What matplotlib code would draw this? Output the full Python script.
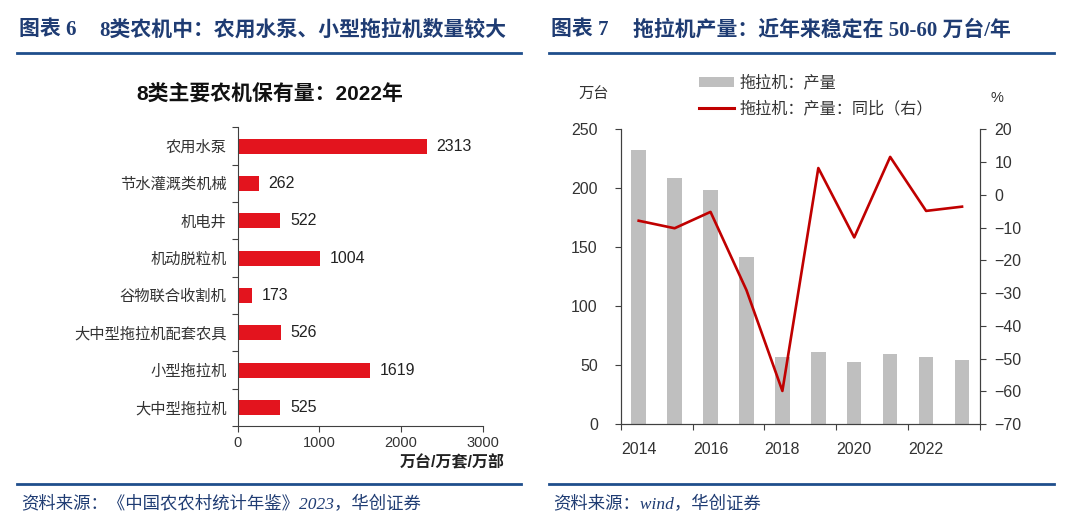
import numpy as np
import matplotlib
matplotlib.use("Agg")
import matplotlib.pyplot as plt
from matplotlib.lines import Line2D
from matplotlib.patches import Patch

plt.rcParams['font.family'] = ['Liberation Sans', 'Noto Sans CJK SC', 'DejaVu Sans']
plt.rcParams['axes.unicode_minus'] = True

# ---- data: left chart (top to bottom) ----
machines = ["农用水泵", "节水灌溉类机械", "机电井", "机动脱粒机",
            "谷物联合收割机", "大中型拖拉机配套农具", "小型拖拉机", "大中型拖拉机"]
holdings = [2313, 262, 522, 1004, 173, 526, 1619, 525]

# ---- data: right chart ----
years = [2014, 2015, 2016, 2017, 2018, 2019, 2020, 2021, 2022, 2023]
tractor_output = [232.6, 208.8, 198.6, 141.5, 56.6, 61.1, 52.9, 59.2, 56.6, 54.3]
tractor_yoy = [-7.9, -10.2, -5.2, -29.1, -59.9, 8.2, -13.0, 11.6, -4.9, -3.6]

navy = '#1F3C73'
line_navy = '#1F4E8C'
spine_col = '#404040'
serif_cjk = ['Liberation Serif', 'Noto Sans CJK SC']

fig = plt.figure(figsize=(10.8, 5.29), dpi=100)

# headers
fig.text(19/1080, 1-30/529, "图表 6", family=serif_cjk, fontsize=15,
         fontweight='bold', color=navy, va='center')
fig.text(99/1080, 1-30/529, "8类农机中：农用水泵、小型拖拉机数量较大",
         family=serif_cjk, fontsize=15, fontweight='bold', color=navy, va='center')
fig.text(551/1080, 1-30/529, "图表 7", family=serif_cjk, fontsize=15,
         fontweight='bold', color=navy, va='center')
fig.text(633/1080, 1-30/529, "拖拉机产量：近年来稳定在 50-60 万台/年",
         family=serif_cjk, fontsize=15, fontweight='bold', color=navy, va='center')
for x0, x1 in [(17, 521), (549, 1054)]:
    fig.add_artist(Line2D([x0/1080, x1/1080], [1-53/529, 1-53/529],
                          transform=fig.transFigure, color=line_navy, lw=2))
    fig.add_artist(Line2D([x0/1080, x1/1080], [1-484/529, 1-484/529],
                          transform=fig.transFigure, color=line_navy, lw=2))

# footers
fig.text(21/1080, 1-505/529, "资料来源：《中国农农村统计年鉴》2023，华创证券",
         family=serif_cjk, fontsize=12.5, style='italic', color=navy, va='center')
fig.text(553/1080, 1-505/529, "资料来源：wind，华创证券",
         family=serif_cjk, fontsize=12.5, style='italic', color=navy, va='center')

# ---- left chart ----
ax1 = fig.add_axes([237.5/1080, 0.1945, (482.9-237.5)/1080, 0.759-0.1945])
ypos = np.arange(len(machines))[::-1]
ax1.barh(ypos, holdings, height=0.4, color='#E3141E')
for y, v in zip(ypos, holdings):
    ax1.text(v + 120, y, str(v), va='center', ha='left', fontsize=11.5, color='#222222')
ax1.set_xlim(0, 3000)
ax1.set_ylim(-0.5, len(machines) - 0.5)
ax1.set_xticks([0, 1000, 2000, 3000])
ax1.set_yticks(np.arange(len(machines) + 1) - 0.5)
ax1.set_yticklabels([])
ax1.set_yticks(ypos, minor=True)
ax1.set_yticklabels(machines, minor=True, fontsize=11, color='#333333')
ax1.tick_params(axis='y', which='minor', length=0, pad=8)
ax1.tick_params(axis='y', which='major', length=4, color=spine_col)
ax1.tick_params(axis='x', length=4, color=spine_col, labelsize=10.5, pad=3, labelcolor='#333333')
for s in ['top', 'right']:
    ax1.spines[s].set_visible(False)
for s in ['left', 'bottom']:
    ax1.spines[s].set_color(spine_col)
fig.text(270/1080, 1-94.6/529, "8类主要农机保有量：2022年", ha='center', va='center',
         fontsize=15, fontweight='bold', color='#111111')
fig.text(505/1080, 1-463/529, "万台/万套/万部", ha='right', va='center',
         fontsize=11.5, fontweight='bold', color='#222222')

# ---- right chart ----
ax2 = fig.add_axes([620.7/1080, 1-424/529, (980-620.7)/1080, (424-129.4)/529])
xpos = np.arange(len(years))
ax2.bar(xpos, tractor_output, width=0.4, color='#BFBFBF')
ax2.set_xlim(-0.5, len(years) - 0.5)
ax2.set_ylim(0, 250)
ax2.set_yticks([0, 50, 100, 150, 200, 250])
ax2.set_xticks(np.arange(0, len(years) + 1, 2) - 0.5)
ax2.set_xticklabels([])
ax2.set_xticks(xpos[::2], minor=True)
ax2.set_xticklabels([str(y) for y in years[::2]], minor=True)
ax2.tick_params(axis='x', which='minor', length=0, pad=13, labelsize=11.5, labelcolor='#333333')
ax2.tick_params(axis='x', which='major', length=4.5, color=spine_col)
ax2.tick_params(axis='y', length=4.5, color=spine_col, pad=12, labelsize=11.5, labelcolor='#333333')
ax2.spines['top'].set_visible(False)
for s in ['left', 'bottom', 'right']:
    ax2.spines[s].set_color(spine_col)

ax3 = ax2.twinx()
ax3.plot(xpos, tractor_yoy, color='#C00000', lw=1.9)
ax3.set_ylim(-70, 20)
ax3.set_yticks(np.arange(-70, 21, 10))
ax3.tick_params(axis='y', length=4.5, color=spine_col, pad=6, labelsize=11.5, labelcolor='#333333')
ax3.spines['top'].set_visible(False)
for s in ['left', 'bottom', 'right']:
    ax3.spines[s].set_color(spine_col)

fig.text(578/1080, 1-94.6/529, "万台", ha='left', va='center', fontsize=11, color='#333333')
fig.text(997/1080, 1-98/529, "%", ha='center', va='center', fontsize=10.5, color='#333333')

handles = [Patch(facecolor='#BFBFBF', edgecolor='none'),
           Line2D([0], [0], color='#C00000', lw=2.2)]
fig.legend(handles, ["拖拉机：产量", "拖拉机：产量：同比（右）"],
           loc='upper left', bbox_to_anchor=(699/1080, 1-75/529),
           frameon=False, fontsize=11.6, handlelength=2.2, handleheight=0.5,
           handletextpad=0.3, borderpad=0, borderaxespad=0, labelspacing=0.6,
           labelcolor='#333333')

fig.savefig("out.png", dpi=100)
